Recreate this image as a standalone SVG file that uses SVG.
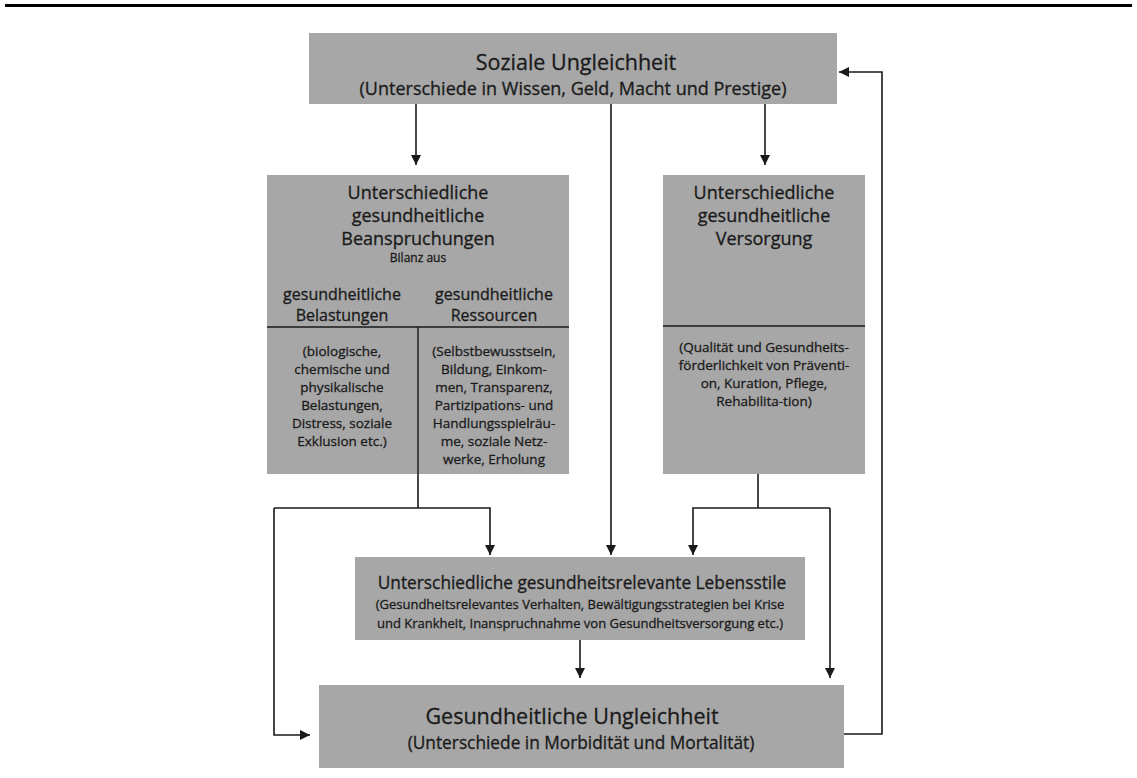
<svg xmlns="http://www.w3.org/2000/svg" width="1137" height="778" viewBox="0 0 1137 778">
  <style>
    .box { fill: #a7a7a7; }
    .rule { stroke: #1a1a1a; stroke-width: 1.4; fill: none; }
    .t { font-family: "Open Sans", "Liberation Sans", sans-serif; fill: #1a1a1a; stroke: #1a1a1a; stroke-width: 0.3; text-anchor: middle; }
    .h1 { font-size: 21.5px; }
    .h2 { font-size: 18px; }
    .h3 { font-size: 17.3px; }
    .sub { font-size: 16px; }
    .sm { font-size: 13.5px; }
    .lb { font-size: 13px; }
    .xs { font-size: 12px; }
    .conn path { stroke: #1a1a1a; stroke-width: 1.6; fill: none; }
  </style>
  <defs>
    <marker id="arrow" viewBox="0 0 10 10" refX="10" refY="5" markerWidth="10" markerHeight="10" markerUnits="userSpaceOnUse" orient="auto">
      <path d="M0,0 L10,5 L0,10 Z" fill="#1a1a1a"/>
    </marker>
  </defs>

  <!-- page header rule -->
  <rect x="5" y="4" width="1127" height="3" fill="#000"/>

  <g id="soziale-ungleichheit">
    <rect class="box" x="309" y="33" width="528" height="71"/>
    <text class="t h1" x="576" y="70">Soziale Ungleichheit</text>
    <text class="t h2" x="573" y="95">(Unterschiede in Wissen, Geld, Macht und Prestige)</text>
  </g>

  <g id="beanspruchungen">
    <rect class="box" x="267" y="175" width="302" height="299"/>
    <text class="t h2" x="418" y="199">Unterschiedliche</text>
    <text class="t h2" x="418" y="222">gesundheitliche</text>
    <text class="t h2" x="418" y="245">Beanspruchungen</text>
    <text class="t xs" x="418" y="262">Bilanz aus</text>
    <text class="t sub" x="342" y="300">gesundheitliche</text>
    <text class="t sub" x="342" y="321">Belastungen</text>
    <text class="t sub" x="494" y="300">gesundheitliche</text>
    <text class="t sub" x="494" y="321">Ressourcen</text>
    <path class="rule" d="M267,327 H569 M418,327 V474"/>
    <text class="t sm" x="342" y="356">(biologische,</text>
    <text class="t sm" x="342" y="374">chemische und</text>
    <text class="t sm" x="342" y="392">physikalische</text>
    <text class="t sm" x="342" y="410">Belastungen,</text>
    <text class="t sm" x="342" y="428">Distress, soziale</text>
    <text class="t sm" x="342" y="446">Exklusion etc.)</text>
    <text class="t sm" x="494" y="356">(Selbstbewusstsein,</text>
    <text class="t sm" x="494" y="374">Bildung, Einkom-</text>
    <text class="t sm" x="494" y="392">men, Transparenz,</text>
    <text class="t sm" x="494" y="410">Partizipations- und</text>
    <text class="t sm" x="494" y="428">Handlungsspielräu-</text>
    <text class="t sm" x="494" y="446">me, soziale Netz-</text>
    <text class="t sm" x="494" y="464">werke, Erholung</text>
  </g>

  <g id="versorgung">
    <rect class="box" x="663" y="175" width="202" height="299"/>
    <text class="t h2" x="764" y="199">Unterschiedliche</text>
    <text class="t h2" x="764" y="222">gesundheitliche</text>
    <text class="t h2" x="764" y="245">Versorgung</text>
    <path class="rule" d="M663,326 H865"/>
    <text class="t sm" x="764" y="352">(Qualität und Gesundheits-</text>
    <text class="t sm" x="764" y="370">förderlichkeit von Präventi-</text>
    <text class="t sm" x="764" y="388">on, Kuration, Pflege,</text>
    <text class="t sm" x="764" y="406">Rehabilita-tion)</text>
  </g>

  <g id="lebensstile">
    <rect class="box" x="355" y="557" width="450" height="83"/>
    <text class="t h3" x="582" y="589">Unterschiedliche gesundheitsrelevante Lebensstile</text>
    <text class="t lb" x="580" y="609">(Gesundheitsrelevantes Verhalten, Bewältigungsstrategien bei Krise</text>
    <text class="t lb" x="580" y="628">und Krankheit, Inanspruchnahme von Gesundheitsversorgung etc.)</text>
  </g>

  <g id="gesundheitliche-ungleichheit">
    <rect class="box" x="319" y="685" width="525" height="83"/>
    <text class="t h1" x="572" y="724">Gesundheitliche Ungleichheit</text>
    <text class="t h3" x="581" y="749">(Unterschiede in Morbidität und Mortalität)</text>
  </g>

  <g id="connectors" class="conn">
    <path d="M416,104 V165" marker-end="url(#arrow)"/>
    <path d="M611,104 V555" marker-end="url(#arrow)"/>
    <path d="M765,104 V165" marker-end="url(#arrow)"/>
    <path d="M418,474 V508"/>
    <path d="M274,508 H490 V555" marker-end="url(#arrow)"/>
    <path d="M274,508 V735 H310" marker-end="url(#arrow)"/>
    <path d="M758,474 V508"/>
    <path d="M830,508 H693 V555" marker-end="url(#arrow)"/>
    <path d="M830,508 V678" marker-end="url(#arrow)"/>
    <path d="M580,640 V678" marker-end="url(#arrow)"/>
    <path d="M844,734 H882 V72 H839" marker-end="url(#arrow)"/>
  </g>
</svg>
